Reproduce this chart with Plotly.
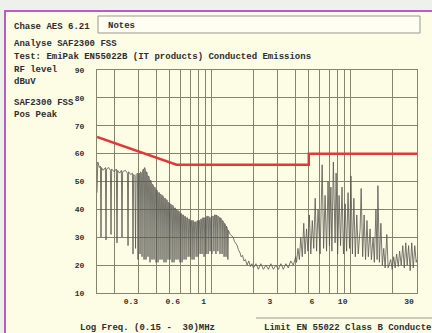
import plotly.graph_objects as go

# ---------------- data ----------------
# grid / tick positions (MHz)
grid_freqs = [0.2, 0.3, 0.4, 0.5, 0.6, 0.7, 0.8, 0.9, 1, 2, 3, 4, 5, 6, 7, 8, 9, 10, 20, 30]
x_label_vals = [0.3, 0.6, 1, 3, 6, 10, 30]
x_label_text = ["0.3", "0.6", "1", "3", "6", "10", "30"]
y_tick_vals = [10, 20, 30, 40, 50, 60, 70, 80, 90]

# EN 55022 class B limit line
limit_freq = [0.15, 0.56, 5.0, 5.0, 30.0]
limit_level = [66, 56, 56, 60, 60]

# measured trace, 0.15 - 1 MHz (envelope with deep notches)
band1_freq = [0.150, 0.152, 0.156, 0.1588, 0.1603, 0.1618, 0.166, 0.1724, 0.1741, 0.1758,
              0.182, 0.1873, 0.1892, 0.1911, 0.199, 0.2068, 0.2089, 0.2110, 0.218, 0.2246,
              0.2269, 0.2292, 0.240, 0.2482, 0.2507, 0.2532, 0.262, 0.2696, 0.2723, 0.2750,
              0.2812, 0.284, 0.2868, 0.2929, 0.2959, 0.2989, 0.3030, 0.306, 0.3090, 0.3129,
              0.3161, 0.3193, 0.3237, 0.327, 0.3303, 0.3343, 0.3377, 0.3411, 0.3455, 0.349,
              0.3525, 0.3573, 0.3609, 0.3645, 0.3693, 0.373, 0.3767, 0.3818, 0.3857, 0.3896,
              0.3950, 0.399, 0.4030, 0.4080, 0.4121, 0.4162, 0.4217, 0.426, 0.4303, 0.4359,
              0.4403, 0.4447, 0.4505, 0.455, 0.4596, 0.4657, 0.4704, 0.4751, 0.4811, 0.486,
              0.4909, 0.4976, 0.5026, 0.5076, 0.5148, 0.520, 0.5252, 0.5317, 0.5371, 0.5425,
              0.5495, 0.555, 0.5606, 0.5679, 0.5737, 0.5794, 0.5871, 0.593, 0.5989, 0.6072,
              0.6133, 0.6194, 0.6277, 0.634, 0.6403, 0.6487, 0.6553, 0.6619, 0.6712, 0.678,
              0.6848, 0.6933, 0.7003, 0.7073, 0.7168, 0.724, 0.7312, 0.7403, 0.7478, 0.7553,
              0.7662, 0.774, 0.7817, 0.7915, 0.7995, 0.8075, 0.8187, 0.827, 0.8353, 0.8456,
              0.8542, 0.8628, 0.8742, 0.883, 0.8918, 0.9035, 0.9126, 0.9217, 0.9346, 0.944,
              0.9534, 0.9654, 0.9752, 0.985]
band1_level = [46, 57, 55, 55.5, 30, 55, 54, 55, 29, 54.5,
               55, 54, 31, 54.5, 53.5, 54.5, 28, 54, 53, 54,
               30, 53.5, 54, 53, 27, 53.5, 52.5, 53, 24, 52.5,
               52, 26, 52.5, 53, 22, 52.5, 53, 24, 53.5, 53,
               23, 54, 54.5, 22, 55, 54, 22, 53.5, 52.5, 23,
               52, 51, 21, 50.5, 49.5, 22, 49, 48.5, 22, 48,
               47.5, 21, 47, 46.5, 21, 46, 46, 22, 45.5, 45,
               22, 45, 44.5, 21, 44, 44, 21, 43.5, 43, 22,
               42.5, 42, 22, 42, 41.5, 21, 41.5, 41, 21, 40.5,
               40.5, 22, 40, 39.5, 22, 39.5, 39, 21, 38.5, 38.5,
               21, 38, 38, 22, 37.5, 37.5, 22, 37, 37, 23,
               36.5, 36.5, 23, 36, 36, 22, 36, 36, 22, 35.5,
               35.5, 23, 35.5, 36, 23, 36, 36, 24, 36.5, 36.5,
               24, 37, 37, 23, 37, 37, 24, 37.5, 37.5, 24,
               37.5, 37, 25, 37]

# 1 - 4 MHz (hump then noise floor)
band2_freq = [1.000, 1.005, 1.010, 1.030, 1.040, 1.050, 1.065, 1.075, 1.085, 1.100,
              1.110, 1.120, 1.140, 1.150, 1.160, 1.180, 1.190, 1.200, 1.220, 1.230,
              1.240, 1.260, 1.270, 1.280, 1.300, 1.310, 1.320, 1.36, 1.40, 1.43,
              1.46, 1.50, 1.53, 1.56, 1.60, 1.63, 1.67, 1.71, 1.75, 1.80,
              1.85, 1.90, 1.95, 2.00, 2.085, 2.17, 2.26, 2.36, 2.46, 2.56,
              2.67, 2.78, 2.90, 3.02, 3.15, 3.28, 3.42, 3.56, 3.71, 3.87, 4.03]
band2_level = [37.5, 24, 37.5, 37.5, 25, 38, 38, 24, 38, 37.5,
               25, 37.5, 37, 24, 37, 36.5, 24, 36, 35.5, 23,
               35, 34.5, 23, 34, 33, 22, 32.5, 31, 30.5, 30,
               28.5, 27.5, 27, 25.5, 24.5, 23, 23.5, 21.5, 22, 20,
               21.5, 19.5, 20.5, 19, 20.5, 18.5, 20.5, 18.5, 20, 18.5,
               20.5, 18.5, 20, 18.5, 20.5, 18.5, 20.5, 19, 21.5, 20, 23]

# 4 - 19 MHz (harmonic spikes)
band3_freq = [4.08, 4.18, 4.28, 4.38, 4.49, 4.60, 4.70, 4.82, 4.93, 5.05,
              5.17, 5.30, 5.43, 5.56, 5.69, 5.83, 6.03, 6.24, 6.39, 6.55,
              6.71, 6.88, 7.04, 7.21, 7.33, 7.51, 7.73, 7.86, 8.06, 8.26,
              8.46, 8.67, 8.88, 9.13, 9.35, 9.58, 9.81, 10.05, 10.3, 10.55,
              10.8, 11.07, 11.34, 11.70, 11.90, 12.2, 12.5, 12.8, 13.1, 13.4,
              13.8, 14.1, 14.5, 14.8, 15.2, 15.5, 15.7, 16.1, 16.5, 16.9,
              17.3, 17.7, 18.2, 18.6]
band3_level = [21, 26, 22, 30, 23, 35, 24, 33, 25, 38,
               24, 36, 26, 44, 25, 40, 24, 56, 26, 45,
               25, 50, 27, 48, 25, 57, 28, 53, 24, 45,
               27, 48, 24, 42, 25, 46, 26, 52, 24, 44,
               23, 38, 24, 33, 47.5, 23, 38, 22, 36, 23,
               33, 22, 30, 21, 40, 22, 48.5, 21, 35, 20,
               26, 19, 31, 19]

# 19 - 30 MHz (noise floor)
band4_freq = [18.9, 19.4, 19.9, 20.4, 20.9, 21.4, 22.0, 22.5, 23.1, 23.7,
              24.3, 24.9, 25.5, 26.1, 26.8, 27.5, 28.2, 28.9, 29.6, 30.0]
band4_level = [20, 22, 18.5, 23, 19, 24, 19.5, 25, 20, 27,
               19, 28, 20, 27, 18, 28, 19, 27, 21, 22]

trace_freq = band1_freq + band2_freq + band3_freq + band4_freq
trace_level = band1_level + band2_level + band3_level + band4_level

# ---------------- layout geometry ----------------
W, H = 432, 333
L, R, T, B = 97, 417, 70, 293


def px(x):
    return (x - L) / (R - L)


def py(y):
    return (B - y) / (B - T)


CREAM = "#fdfce4"
GRID = "#85856e"
TXT = "#2e2e2e"
MONO = "Liberation Mono, DejaVu Sans Mono, monospace"

fig = go.Figure()
fig.add_trace(go.Scatter(x=trace_freq, y=trace_level, mode="lines",
                         line=dict(color="#555550", width=0.8), hoverinfo="skip"))
fig.add_trace(go.Scatter(x=limit_freq, y=limit_level, mode="lines",
                         line=dict(color="#e0393a", width=2.5), hoverinfo="skip"))

tick_text = [x_label_text[x_label_vals.index(v)] if v in x_label_vals else "" for v in grid_freqs]

fig.update_xaxes(type="log", range=[-0.8239, 1.4771], tickvals=grid_freqs, ticktext=tick_text,
                 showgrid=True, gridcolor=GRID, gridwidth=1, zeroline=False,
                 showline=True, mirror=True, linecolor=GRID, linewidth=1,
                 ticks="", ticklabelshift=-8,
                 tickfont=dict(family=MONO, size=8, color=TXT, weight="bold"))
fig.update_yaxes(range=[10, 90], tickvals=y_tick_vals,
                 showgrid=True, gridcolor=GRID, gridwidth=1, zeroline=False,
                 showline=True, mirror=True, linecolor=GRID, linewidth=1,
                 ticks="", ticklabelstandoff=10,
                 tickfont=dict(family=MONO, size=8, color=TXT, weight="bold"))

shapes = [
    dict(type="rect", xref="paper", yref="paper", x0=px(5), x1=px(460), y0=py(11), y1=py(360),
         line=dict(color="#bb5cbf", width=2), fillcolor=CREAM, layer="below"),
    dict(type="rect", xref="paper", yref="paper", x0=px(98), x1=px(420), y0=py(16), y1=py(33),
         line=dict(color="#9a9a8a", width=1), fillcolor="#fefef2", layer="below"),
    dict(type="line", xref="paper", yref="paper", x0=px(256), x1=px(440), y0=py(318), y1=py(318),
         line=dict(color="#9a9a8a", width=1)),
]

texts = [
    ("Chase AES 6.21", 12, 27),
    ("Notes", 106, 26),
    ("Analyse SAF2300 FSS", 12, 44),
    ("Test: EmiPak EN55022B (IT products) Conducted Emissions", 12, 57),
    ("RF level", 12, 70),
    ("dBuV", 12, 82),
    ("SAF2300 FSS", 12, 103),
    ("Pos Peak", 12, 115),
    ("Log Freq. (0.15 -  30)MHz", 78, 328),
    ("Limit EN 55022 Class B Conducte", 262, 328),
]
annotations = [dict(text=t, xref="paper", yref="paper", x=px(x), y=py(y), xanchor="left",
                    yanchor="middle", showarrow=False,
                    font=dict(family=MONO, size=9, color=TXT, weight="bold")) for t, x, y in texts]

fig.update_layout(width=W, height=H, margin=dict(l=L, r=W - R, t=T, b=H - B),
                  paper_bgcolor="#eef0ec", plot_bgcolor=CREAM, showlegend=False,
                  shapes=shapes, annotations=annotations)

fig.write_html("out.html", config={"displayModeBar": False},
               post_script="document.body.style.margin='0';document.body.style.overflow='hidden';")
